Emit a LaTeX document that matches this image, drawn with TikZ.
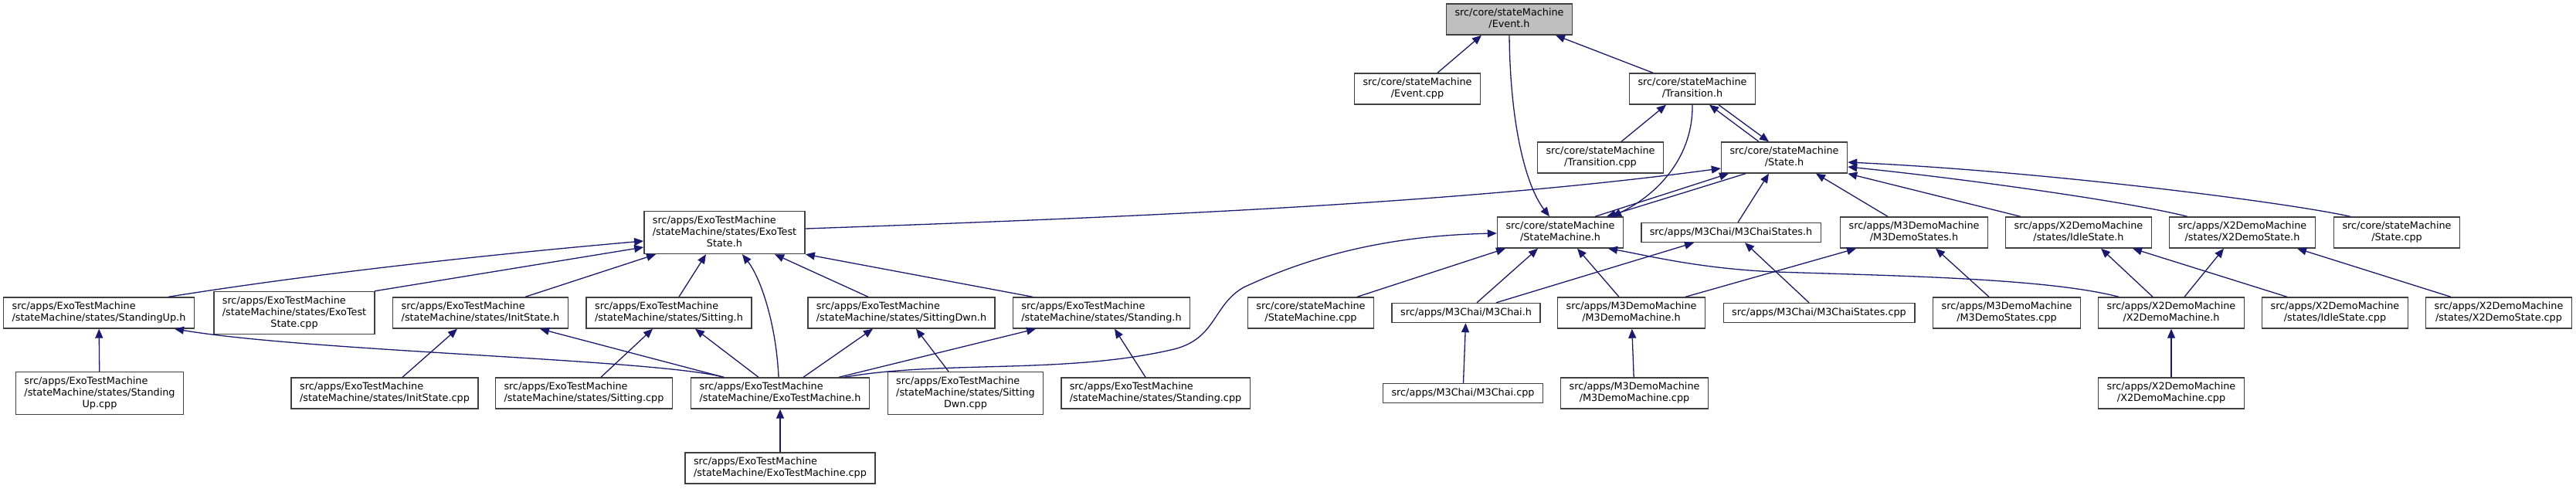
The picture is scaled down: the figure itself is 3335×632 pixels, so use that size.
\documentclass[tikz,border=0pt]{standalone}
\usepackage{fontspec}
\setmainfont{DejaVu Sans}
\usepackage{xcolor}
\usepackage{tikz}
\usetikzlibrary{arrows.meta}

\definecolor{midnight}{HTML}{191970}

% two-part file label: upper lines left, last line centred
\newcommand{\ftwo}[2]{\begin{tabular}{@{}l@{}}#1\\\multicolumn{1}{@{}c@{}}{#2}\end{tabular}}
\newcommand{\fone}[1]{\begin{tabular}{@{}c@{}}#1\end{tabular}}

\begin{document}
\begin{tikzpicture}[x=1pt, y=-1pt,
  file/.style={draw=black!75, line width=1.4pt, fill=white, inner xsep=11pt, inner ysep=5pt,
    font=\fontsize{12.8}{15}\selectfont},
  root/.style={file, fill=black!25},
  dep/.style={draw=midnight, line width=1.3pt, -{Triangle[length=12pt,width=10pt]}}]

\useasboundingbox (0,0) rectangle (3335,632);

%%% --- core headers --- %%%
\node[root] (eventH)   at (1954,25)  {\ftwo{src/core/stateMachine}{/Event.h}};
\node[file] (eventCpp) at (1835,115) {\ftwo{src/core/stateMachine}{/Event.cpp}};
\node[file] (transH)   at (2191,115) {\ftwo{src/core/stateMachine}{/Transition.h}};
\node[file] (transCpp) at (2072,204) {\ftwo{src/core/stateMachine}{/Transition.cpp}};
\node[file] (stateH)   at (2310,204) {\ftwo{src/core/stateMachine}{/State.h}};

%%% --- third row --- %%%
\node[file] (exoStateH)   at (938,301)  {\ftwo{src/apps/ExoTestMachine\\/stateMachine/states/ExoTest}{State.h}};
\node[file] (smH)         at (2020,301) {\ftwo{src/core/stateMachine}{/StateMachine.h}};
\node[file] (chaiStatesH) at (2241,301) {\fone{src/apps/M3Chai/M3ChaiStates.h}};
\node[file] (m3StatesH)   at (2478,301) {\ftwo{src/apps/M3DemoMachine}{/M3DemoStates.h}};
\node[file] (idleH)       at (2691,301) {\ftwo{src/apps/X2DemoMachine}{/states/IdleState.h}};
\node[file] (x2StateH)    at (2903,301) {\ftwo{src/apps/X2DemoMachine}{/states/X2DemoState.h}};
\node[file] (stateCpp)    at (3103,301) {\ftwo{src/core/stateMachine}{/State.cpp}};

%%% --- fourth row --- %%%
\node[file] (upH)           at (128,405)  {\ftwo{src/apps/ExoTestMachine}{/stateMachine/states/StandingUp.h}};
\node[file] (exoStateCpp)   at (381,405)  {\ftwo{src/apps/ExoTestMachine\\/stateMachine/states/ExoTest}{State.cpp}};
\node[file] (initH)         at (622,405)  {\ftwo{src/apps/ExoTestMachine}{/stateMachine/states/InitState.h}};
\node[file] (sitH)          at (866,405)  {\ftwo{src/apps/ExoTestMachine}{/stateMachine/states/Sitting.h}};
\node[file] (dwnH)          at (1167,405) {\ftwo{src/apps/ExoTestMachine}{/stateMachine/states/SittingDwn.h}};
\node[file] (standH)        at (1426,405) {\ftwo{src/apps/ExoTestMachine}{/stateMachine/states/Standing.h}};
\node[file] (smCpp)         at (1697,405) {\ftwo{src/core/stateMachine}{/StateMachine.cpp}};
\node[file] (chaiH)         at (1898,405) {\fone{src/apps/M3Chai/M3Chai.h}};
\node[file] (m3MachH)       at (2112,405) {\ftwo{src/apps/M3DemoMachine}{/M3DemoMachine.h}};
\node[file] (chaiStatesCpp) at (2355,405) {\fone{src/apps/M3Chai/M3ChaiStates.cpp}};
\node[file] (m3StatesCpp)   at (2598,405) {\ftwo{src/apps/M3DemoMachine}{/M3DemoStates.cpp}};
\node[file] (x2MachH)       at (2811,405) {\ftwo{src/apps/X2DemoMachine}{/X2DemoMachine.h}};
\node[file] (idleCpp)       at (3023,405) {\ftwo{src/apps/X2DemoMachine}{/states/IdleState.cpp}};
\node[file] (x2StateCpp)    at (3235,405) {\ftwo{src/apps/X2DemoMachine}{/states/X2DemoState.cpp}};

%%% --- fifth row --- %%%
\node[file] (upCpp)     at (129,509)  {\ftwo{src/apps/ExoTestMachine\\/stateMachine/states/Standing}{Up.cpp}};
\node[file] (initCpp)   at (498,509)  {\ftwo{src/apps/ExoTestMachine}{/stateMachine/states/InitState.cpp}};
\node[file] (sitCpp)    at (756,509)  {\ftwo{src/apps/ExoTestMachine}{/stateMachine/states/Sitting.cpp}};
\node[file] (exoMachH)  at (1010,509) {\ftwo{src/apps/ExoTestMachine}{/stateMachine/ExoTestMachine.h}};
\node[file] (dwnCpp)    at (1250,509) {\ftwo{src/apps/ExoTestMachine\\/stateMachine/states/Sitting}{Dwn.cpp}};
\node[file] (standCpp)  at (1496,509) {\ftwo{src/apps/ExoTestMachine}{/stateMachine/states/Standing.cpp}};
\node[file] (chaiCpp)   at (1894,509) {\fone{src/apps/M3Chai/M3Chai.cpp}};
\node[file] (m3MachCpp) at (2116,509) {\ftwo{src/apps/M3DemoMachine}{/M3DemoMachine.cpp}};
\node[file] (x2MachCpp) at (2811,509) {\ftwo{src/apps/X2DemoMachine}{/X2DemoMachine.cpp}};

\node[file] (exoMachCpp) at (1010,606) {\ftwo{src/apps/ExoTestMachine}{/stateMachine/ExoTestMachine.cpp}};


%%% --- edges round Event.h / Transition.h / State.h --- %%%
\draw[dep] ([xshift=26pt]eventCpp.north) -- ([xshift=-36pt]eventH.south);
\draw[dep] ([xshift=-51pt]transH.north) -- ([xshift=60pt]eventH.south);
\draw[dep] (eventH.south) .. controls (1955,160) and (1975,240) .. ([xshift=-14pt]smH.north);
\draw[dep] ([xshift=27pt]transCpp.north) -- ([xshift=-34pt]transH.south);
\draw[dep] (transH.south) .. controls (2192,200) and (2150,250) .. ([xshift=67pt]smH.north);
\draw[dep] ([xshift=34pt]transH.south) -- ([xshift=-20pt]stateH.north);
\draw[dep] ([xshift=-33pt]stateH.north) -- ([xshift=22pt]transH.south);
\draw[dep] ([xshift=-50pt]stateH.south) -- ([xshift=60pt]smH.north);
\draw[dep] ([xshift=45pt]smH.north) -- ([xshift=-72pt]stateH.south);

% everything that includes State.h
\draw[dep] ([yshift=5pt]exoStateH.east) .. controls (1500,280) and (1900,262) .. ([yshift=-14pt]stateH.west);
\draw[dep] ([xshift=9pt]chaiStatesH.north) -- ([xshift=-20pt]stateH.south);
\draw[dep] ([xshift=-34pt]m3StatesH.north) -- ([xshift=41pt]stateH.south);
\draw[dep] ([xshift=-75pt]idleH.north) -- (stateH.south east);
\draw[dep] ([xshift=-71pt]x2StateH.north) .. controls (2760,262) and (2550,232) .. ([yshift=-12pt]stateH.east);
\draw[dep] ([xshift=-60pt]stateCpp.north) .. controls (2960,262) and (2650,222) .. ([yshift=-6pt]stateH.east);

%%% --- ExoTestState.h --- %%%
\draw[dep] ([xshift=90pt]upH.north) .. controls (420,352) and (650,328) .. ([yshift=-11pt]exoStateH.west);
\draw[dep] ([xshift=104pt]exoStateCpp.north) -- ([yshift=-19pt]exoStateH.west);
\draw[dep] ([xshift=58pt]initH.north) -- ([xshift=-89pt]exoStateH.south);
\draw[dep] ([xshift=13pt]sitH.north) -- ([xshift=-24pt]exoStateH.south);
\draw[dep] ([xshift=-2pt]exoMachH.north) .. controls (1005,420) and (985,360) .. ([xshift=23pt]exoStateH.south);
\draw[dep] ([xshift=-43pt]dwnH.north) -- ([xshift=65pt]exoStateH.south);
\draw[dep] ([xshift=-89pt]standH.north) -- (exoStateH.south east);

%%% --- ExoTestMachine states --- %%%
\draw[dep] ([xshift=-73pt]exoMachH.north) .. controls (850,465) and (400,455) .. ([xshift=98pt]upH.south);
\draw[dep] ([xshift=23pt]initCpp.north) -- ([xshift=-30pt]initH.south);
\draw[dep] ([xshift=-73pt]exoMachH.north) -- ([xshift=77pt]initH.south);
\draw[dep] ([xshift=22pt]sitCpp.north) -- ([xshift=-21pt]sitH.south);
\draw[dep] ([xshift=-28pt]exoMachH.north) -- ([xshift=34pt]sitH.south);
\draw[dep] ([xshift=30pt]exoMachH.north) -- ([xshift=-37pt]dwnH.south);
\draw[dep] ([xshift=-22pt]dwnCpp.north) -- ([xshift=19pt]dwnH.south);
\draw[dep] ([xshift=76pt]exoMachH.north) -- ([xshift=-85pt]standH.south);
\draw[dep] ([xshift=-13pt]standCpp.north) -- ([xshift=17pt]standH.south);

% long one up to StateMachine.h
\draw[dep] ([xshift=83pt]exoMachH.north) .. controls (1220,466) and (1380,485) .. (1520,452)
  .. controls (1575,438) and (1570,395) .. (1610,372)
  .. controls (1700,330) and (1800,305) .. ([yshift=-1pt]smH.west);

%%% --- StateMachine.h and the demo machines --- %%%
\draw[dep] ([xshift=60pt]smCpp.north) -- ([xshift=-71pt]smH.south);
\draw[dep] ([xshift=14pt]chaiH.north) -- ([xshift=-29pt]smH.south);
\draw[dep] ([xshift=-16pt]m3MachH.north) -- ([xshift=22pt]smH.south);
\draw[dep] ([xshift=-68pt]x2MachH.north) .. controls (2650,360) and (2450,357) .. (2300,352)
  .. controls (2200,348) and (2130,330) .. ([xshift=62pt]smH.south);
\draw[dep] ([xshift=39pt]chaiH.north) -- ([xshift=-48pt]chaiStatesH.south);
\draw[dep] ([xshift=-13pt]chaiStatesCpp.north) -- ([xshift=18pt]chaiStatesH.south);
\draw[dep] ([xshift=70pt]m3MachH.north) -- ([xshift=-75pt]m3StatesH.south);
\draw[dep] ([xshift=-23pt]m3StatesCpp.north) -- ([xshift=28pt]m3StatesH.south);
\draw[dep] ([xshift=-24pt]x2MachH.north) -- ([xshift=29pt]idleH.south);
\draw[dep] ([xshift=-62pt]idleCpp.north) -- ([xshift=70pt]idleH.south);
\draw[dep] ([xshift=17pt]x2MachH.north) -- ([xshift=-24pt]x2StateH.south);
\draw[dep] ([xshift=-62pt]x2StateCpp.north) -- ([xshift=71pt]x2StateH.south);

% straight ones from the .cpp below
\foreach \a/\b in {upCpp/upH, exoMachCpp/exoMachH, chaiCpp/chaiH, m3MachCpp/m3MachH, x2MachCpp/x2MachH}
  \draw[dep] (\a) -- (\b);

\end{tikzpicture}
\end{document}
